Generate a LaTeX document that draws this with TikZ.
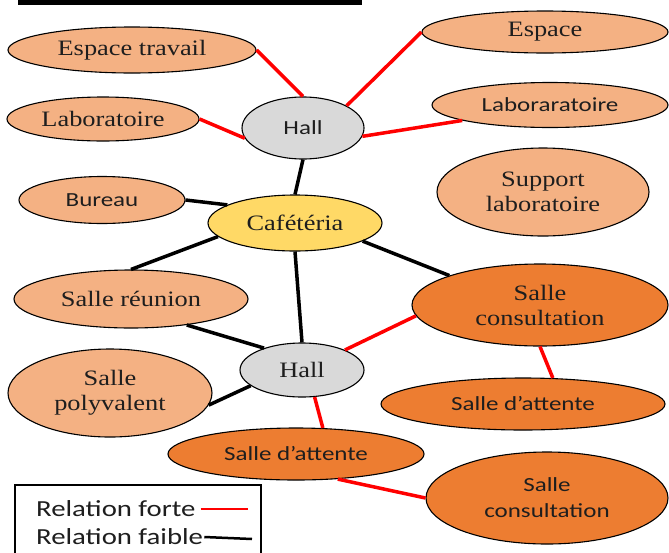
\documentclass[tikz,border=0pt]{standalone}
\usepackage{fontspec}
\setmainfont{Liberation Serif}[FakeStretch=1.2]
\newfontfamily\calfont{Carlito}[FakeStretch=1.25]
\usetikzlibrary{shapes.geometric}

\definecolor{peche}{HTML}{F4B183}
\definecolor{orangefonce}{HTML}{ED7D31}
\definecolor{gris}{HTML}{D9D9D9}
\definecolor{jaune}{HTML}{FFD966}
\definecolor{encre}{HTML}{1E1E1E}

\newcommand{\txtserif}{\fontsize{22}{25}\selectfont}
\newcommand{\txtsans}{\calfont\fontsize{20}{26}\selectfont}
\newcommand{\txtlegende}{\calfont\fontsize{23}{26}\selectfont}

\begin{document}
\begin{tikzpicture}[x=1pt, y=-1pt,
    piece/.style={ellipse, draw=black, line width=1.1pt, inner sep=0pt, align=center, text=encre, font=\txtserif},
    clair/.style={piece, fill=peche},
    fonce/.style={piece, fill=orangefonce},
    hall/.style={piece, fill=gris},
    sans/.style={font=\txtsans},
    legende/.style={anchor=west, inner sep=0pt, text=encre, font=\txtlegende},
    forte/.style={red, line width=3.5pt},
    faible/.style={black, line width=3.5pt}]
\useasboundingbox (0,0) rectangle (669,552);

% bandeau du titre (coupe)
\fill[black] (18,0) rectangle (362,5);

% espaces autour du premier hall
\node[clair, minimum width=248, minimum height=46] (travail) at (132,50) {Espace travail};
\node[clair, minimum width=246, minimum height=42] (espace) at (545,32) {Espace};
\node[clair, minimum width=192, minimum height=44] (labo) at (103,119) {Laboratoire};
\node[clair, sans, minimum width=236, minimum height=45] (labo2) at (550,105) {Laboraratoire};
\node[hall, sans, minimum width=122, minimum height=62] (hallA) at (303,128) {Hall};

% centre
\node[clair, sans, minimum width=166, minimum height=47] (bureau) at (102,200) {Bureau};
\node[piece, fill=jaune, minimum width=174, minimum height=56] (cafe) at (295,223) {Cafétéria};
\node[clair, minimum width=212, minimum height=88] (support) at (543,192) {Support\\laboratoire};
\node[clair, minimum width=234, minimum height=58] (reunion) at (131,299) {Salle réunion};
\node[fonce, minimum width=256, minimum height=82] (consult) at (540,305) {Salle\\consultation};

% espaces autour du second hall
\node[hall, minimum width=124, minimum height=54] (hallB) at (302,370) {Hall};
\node[clair, minimum width=204, minimum height=88] (poly) at (110,393) {Salle\\polyvalent};
\node[fonce, sans, minimum width=284, minimum height=52] (attente) at (523,404) {Salle d’attente};
\node[fonce, sans, minimum width=256, minimum height=52] (attente2) at (296,454) {Salle d’attente};
\node[fonce, sans, minimum width=242, minimum height=92] (consult2) at (547,498) {Salle\\consultation};

% relations fortes
\draw[forte] (travail.east) -- (hallA.north);
\draw[forte] (espace.west) -- (hallA.27);
\draw[forte] (labo.east) -- (hallA.190);
\draw[forte] (labo2.190) -- (hallA.-8);
\draw[forte] (consult.185) -- (hallB.25);
\draw[forte] (consult.south) -- (attente.41);
\draw[forte] (hallB.-65) -- (attente2.44);
\draw[forte] (attente2.-31) -- (consult2.west);

% relations faibles
\draw[faible] (hallA.south) -- (cafe.north);
\draw[faible] (bureau.east) -- (cafe.165);
\draw[faible] (cafe.190) -- (reunion.north);
\draw[faible] (cafe.south) -- (hallB.north);
\draw[faible] (cafe.-15) -- (consult.162);
\draw[faible] (reunion.-25) -- (hallB.150);
\draw[faible] (poly.-7) -- (hallB.197);

% legende
\draw[line width=1.2pt] (15,560) -- (15,485) -- (261,485) -- (261,560);
\node[legende] (lforte) at (36,509) {Relation forte};
\node[legende] (lfaible) at (36,537) {Relation faible};
\coordinate (fforte) at (248,509);
\coordinate (ffaible) at (252,539);
\draw[red, line width=2.5pt] ([xshift=5pt]lforte.east) -- (fforte);
\draw[black, line width=2.5pt] ([xshift=1pt]lfaible.east) -- (ffaible);
\end{tikzpicture}
\end{document}
